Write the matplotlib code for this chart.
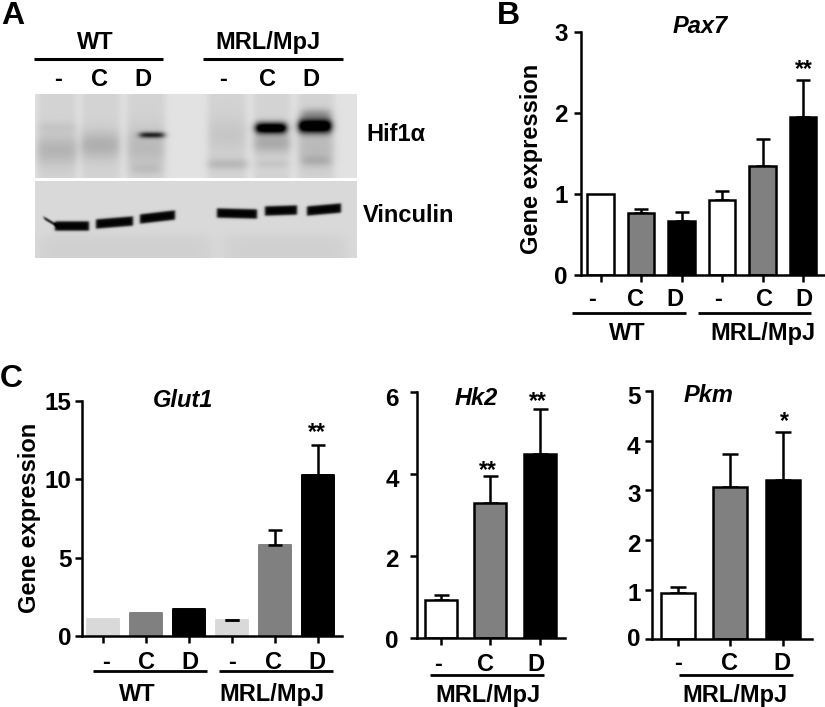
import numpy as np
import matplotlib
matplotlib.use("Agg")
import matplotlib.pyplot as plt
from matplotlib.lines import Line2D
from matplotlib.transforms import ScaledTranslation

W, H = 825, 707
plt.rcParams['font.family'] = ['Liberation Sans', 'DejaVu Sans']
plt.rcParams['font.weight'] = 'bold'

# ---- data ----
labels6 = ['-', 'C', 'D', '-', 'C', 'D']
labels3 = ['-', 'C', 'D']

pax7_vals = [1.00, 0.77, 0.67, 0.93, 1.35, 1.95]
pax7_err = [0.0, 0.05, 0.11, 0.11, 0.33, 0.46]
glut1_vals = [1.10, 1.50, 1.70, 1.03, 5.78, 10.28]
glut1_err = [0.0, 0.0, 0.0, 0.02, 0.98, 1.90]
hk2_vals = [0.92, 3.29, 4.50]
hk2_err = [0.12, 0.66, 1.08]
pkm_vals = [0.93, 3.07, 3.21]
pkm_err = [0.12, 0.67, 0.97]

# blot lanes / bands in reference pixels
hif_lanes = [(57, 19), (101, 19), (146, 19), (227, 19), (272, 18), (316, 18)]
hif_diffuse = [(57, 150, 20, 11, .12), (57, 127, 19, 4, .04), (100, 145, 19, 10, .14),
               (146, 147, 18, 14, .10), (227, 135, 18, 12, .05), (228, 164, 20, 4, .10),
               (272, 143, 18, 7, .16), (273, 164, 15, 3, .05), (316, 148, 17, 12, .10),
               (316, 161, 14, 4, .10), (316, 114, 14, 4, .22), (146, 169, 14, 4, .06)]
hif_sharp = [(152, 135, 12, 2.2, .50), (271, 128, 15, 4.0, .85), (315, 126, 16, 5.0, .90)]
vin_bands = [(55, 89, 226, 226), (96, 133, 224, 221), (140, 175, 219, 215),
             (217, 257, 213, 214), (265, 297, 211, 210), (307, 341, 211, 208)]


def to_fig(x, y):
    return x / W, 1 - y / H


def ptext(x, y, s, size, ha='center', **kw):
    fx, fy = to_fig(x, y)
    return fig.text(fx, fy, s, fontsize=size, ha=ha, va='baseline', fontweight='bold', **kw)


def pline(x0, x1, y, lw=2.0):
    fig.add_artist(Line2D([x0 / W, x1 / W], [1 - y / H] * 2, color='black', lw=lw,
                          solid_capstyle='butt', transform=fig.transFigure))


def make_axes(l, r, t, b):
    return fig.add_axes([l / W, 1 - b / H, (r - l) / W, (b - t) / H])


def gauss(v, c, s):
    return np.exp(-0.5 * ((v - c) / s) ** 2)


def box(v, c, hw, soft):
    return 0.5 * (np.tanh((v - c + hw) / soft) - np.tanh((v - c - hw) / soft))


fig = plt.figure(figsize=(W / 100, H / 100), dpi=100, facecolor='white')


def bar_panel(l, r, t, b, first_px, step_px, vals, errs, ymax, yticks, xlabels,
              colors, bar_px, edge, pad_y, pad_x, offsets, cap_px, yoffsets=None):
    ax = make_axes(l, r, t, b)
    x = np.arange(len(vals))
    ax.set_xlim((l - first_px) / step_px, (r - first_px) / step_px)
    ax.set_ylim(0, ymax)
    lower = np.zeros(len(vals))
    mask = np.array(errs) > 0
    ax.errorbar(x[mask], np.array(vals)[mask], yerr=[lower[mask], np.array(errs)[mask]],
                fmt='none', ecolor='black', elinewidth=1.8, capsize=cap_px / 2 * 0.72,
                capthick=1.8, zorder=3 if not edge else 1)
    if edge:
        ax.bar(x, vals, width=bar_px / step_px, color=colors, edgecolor='black',
               linewidth=1.8, zorder=2)
    else:
        bars = ax.bar(x, vals, width=bar_px / step_px, color=colors, edgecolor=colors,
                      linewidth=1.4, zorder=2)
        for p in bars:
            p.set_joinstyle('round')
    for s in ('top', 'right'):
        ax.spines[s].set_visible(False)
    for s in ('left', 'bottom'):
        ax.spines[s].set_linewidth(1.8)
    ax.spines['bottom'].set_zorder(5)
    ax.patch.set_alpha(0)
    ax.set_yticks(yticks)
    ax.set_yticklabels([str(v) for v in yticks])
    ax.set_xticks(x)
    ax.set_xticklabels(xlabels)
    ax.tick_params(axis='y', length=5, width=1.8, labelsize=17.5, pad=pad_y)
    ax.tick_params(axis='x', length=5, width=1.8, labelsize=17, pad=pad_x)
    for lab, dx in zip(ax.get_xticklabels(), offsets):
        lab.set_transform(lab.get_transform() +
                          ScaledTranslation(dx / 100, 0, fig.dpi_scale_trans))
        lab.set_fontweight('bold')
    ylabs = ax.get_yticklabels()
    for i, lab in enumerate(ylabs):
        lab.set_fontweight('bold')
        if yoffsets is not None:
            lab.set_transform(lab.get_transform() +
                              ScaledTranslation(0, -yoffsets[i] / 100, fig.dpi_scale_trans))
    return ax


# ---- panel A: blot ----
yy, xx = np.mgrid[94:178, 35:357].astype(float) + 0.5
hif = np.full(xx.shape, 0.885)
dark = np.zeros(xx.shape)
for cx, hw in hif_lanes:
    dark += 0.06 * box(xx, cx, hw, 4)
for cx, cy, hw, h, a in hif_diffuse:
    dark += a * box(xx, cx, hw, 5) * gauss(yy, cy, h)
for cx, cy, hw, h, a in hif_sharp:
    dark += a * 1.25 * box(xx, cx, hw, 4) * gauss(yy, cy, h)
hif = np.clip(hif - dark, 0, 1)
ax_h = make_axes(35, 357, 94, 178)
ax_h.imshow(hif, cmap='gray', vmin=0, vmax=1, aspect='auto', interpolation='bilinear')
ax_h.axis('off')

yy, xx = np.mgrid[181:258, 35:357].astype(float) + 0.5
low = 0.5 * (1 + np.tanh((yy - 236) / 6))
vin = 0.85 - 0.035 * low * box(xx, 125, 85, 8) - 0.035 * low * box(xx, 285, 60, 8)
for x0, x1, y0, y1 in vin_bands:
    centre = y0 + (y1 - y0) * (xx - x0) / (x1 - x0)
    vin = vin - 0.84 * box(xx, (x0 + x1) / 2, (x1 - x0) / 2, 1.5) * box(yy, centre, 4.6, 1.3)
# hooked left tail of the first vinculin band
tail = 218 + (225 - 218) * (xx - 44) / (56 - 44)
vin = vin - 0.7 * box(xx, 50, 6, 1.5) * box(yy, tail, 1.5, 1.0)
vin = np.clip(vin, 0, 1)
ax_v = make_axes(35, 357, 181, 258)
ax_v.imshow(vin, cmap='gray', vmin=0, vmax=1, aspect='auto', interpolation='bilinear')
ax_v.axis('off')

ptext(1, 24, 'A', 23, ha='left')
ptext(95.7, 49, 'WT', 17)
ptext(268, 49, 'MRL/MpJ', 17)
pline(34, 163, 59.3, 2.2)
pline(203, 343, 59.3, 2.2)
for xp, s in zip([58, 99, 143, 222.7, 267, 310.7], labels6):
    ptext(xp, 86, s, 17)
ptext(366.7, 140.7, 'Hif1α', 17, ha='left')
ptext(363, 222, 'Vinculin', 17, ha='left')

# ---- panel B ----
white_grey_black = ['white', '#808080', 'black']
bar_panel(580.7, 825, 32, 275, 600.7, 40.5, pax7_vals, pax7_err, 3, [0, 1, 2, 3], labels6,
          white_grey_black * 2, 26.5, True, 4.5, 4.5, [-9, -6, -7, -4, 2, 1], 14)
ptext(497, 24, 'B', 23, ha='left')
ptext(700, 33, 'Pax7', 17, style='italic')
ptext(538, 159, 'Gene expression', 17, rotation=90, rotation_mode='anchor')
ptext(804, 76, '**', 16.5)
pline(571.7, 685.7, 313)
pline(697.7, 811, 313)
ptext(627.7, 340, 'WT', 17)
ptext(763.3, 340, 'MRL/MpJ', 17)

# ---- panel C ----
glut_colors = ['#d9d9d9', '#808080', 'black']
bar_panel(82, 341.7, 401, 636, 103.3, 43, glut1_vals, glut1_err, 15, [0, 5, 10, 15], labels6,
          glut_colors * 2, 32, False, 2.5, 6, [3, 0, 1, 0, -2, -1], 14)
ptext(0, 386.6, 'C', 23, ha='left')
ptext(183, 406.7, 'Glut1', 17, style='italic')
ptext(36, 517.5, 'Gene expression', 17, rotation=90, rotation_mode='anchor')
ptext(317, 439, '**', 16.5)
pline(93.3, 206.7, 670.7)
pline(219, 332.7, 670.7)
ptext(137.7, 701, 'WT', 17)
ptext(271.7, 701, 'MRL/MpJ', 17)

bar_panel(416.7, 565, 392.3, 637.7, 441, 49.3, hk2_vals, hk2_err, 6, [0, 2, 4, 6], labels3,
          white_grey_black, 32, True, 8, 6, [-3, -5, -4], 15, yoffsets=[1, 2, 4, 5])
ptext(476.7, 405, 'Hk2', 17, style='italic')
ptext(488, 477, '**', 16.5)
ptext(538, 408, '**', 16.5)
pline(430, 544, 675)
ptext(487.7, 701.7, 'MRL/MpJ', 17)

bar_panel(651.7, 811.7, 391, 639.3, 677.7, 52.7, pkm_vals, pkm_err, 5, [0, 1, 2, 3, 4, 5], labels3,
          white_grey_black, 34, True, 3, 4, [0, -1, -1], 16, yoffsets=[-2, 2, 3, 3, 4, 4])
ptext(709, 402.3, 'Pkm', 17, style='italic')
ptext(784, 428, '*', 16.5)
pline(679, 792.7, 675)
ptext(735, 701.7, 'MRL/MpJ', 17)

fig.savefig('out.png', dpi=100, facecolor='white')
